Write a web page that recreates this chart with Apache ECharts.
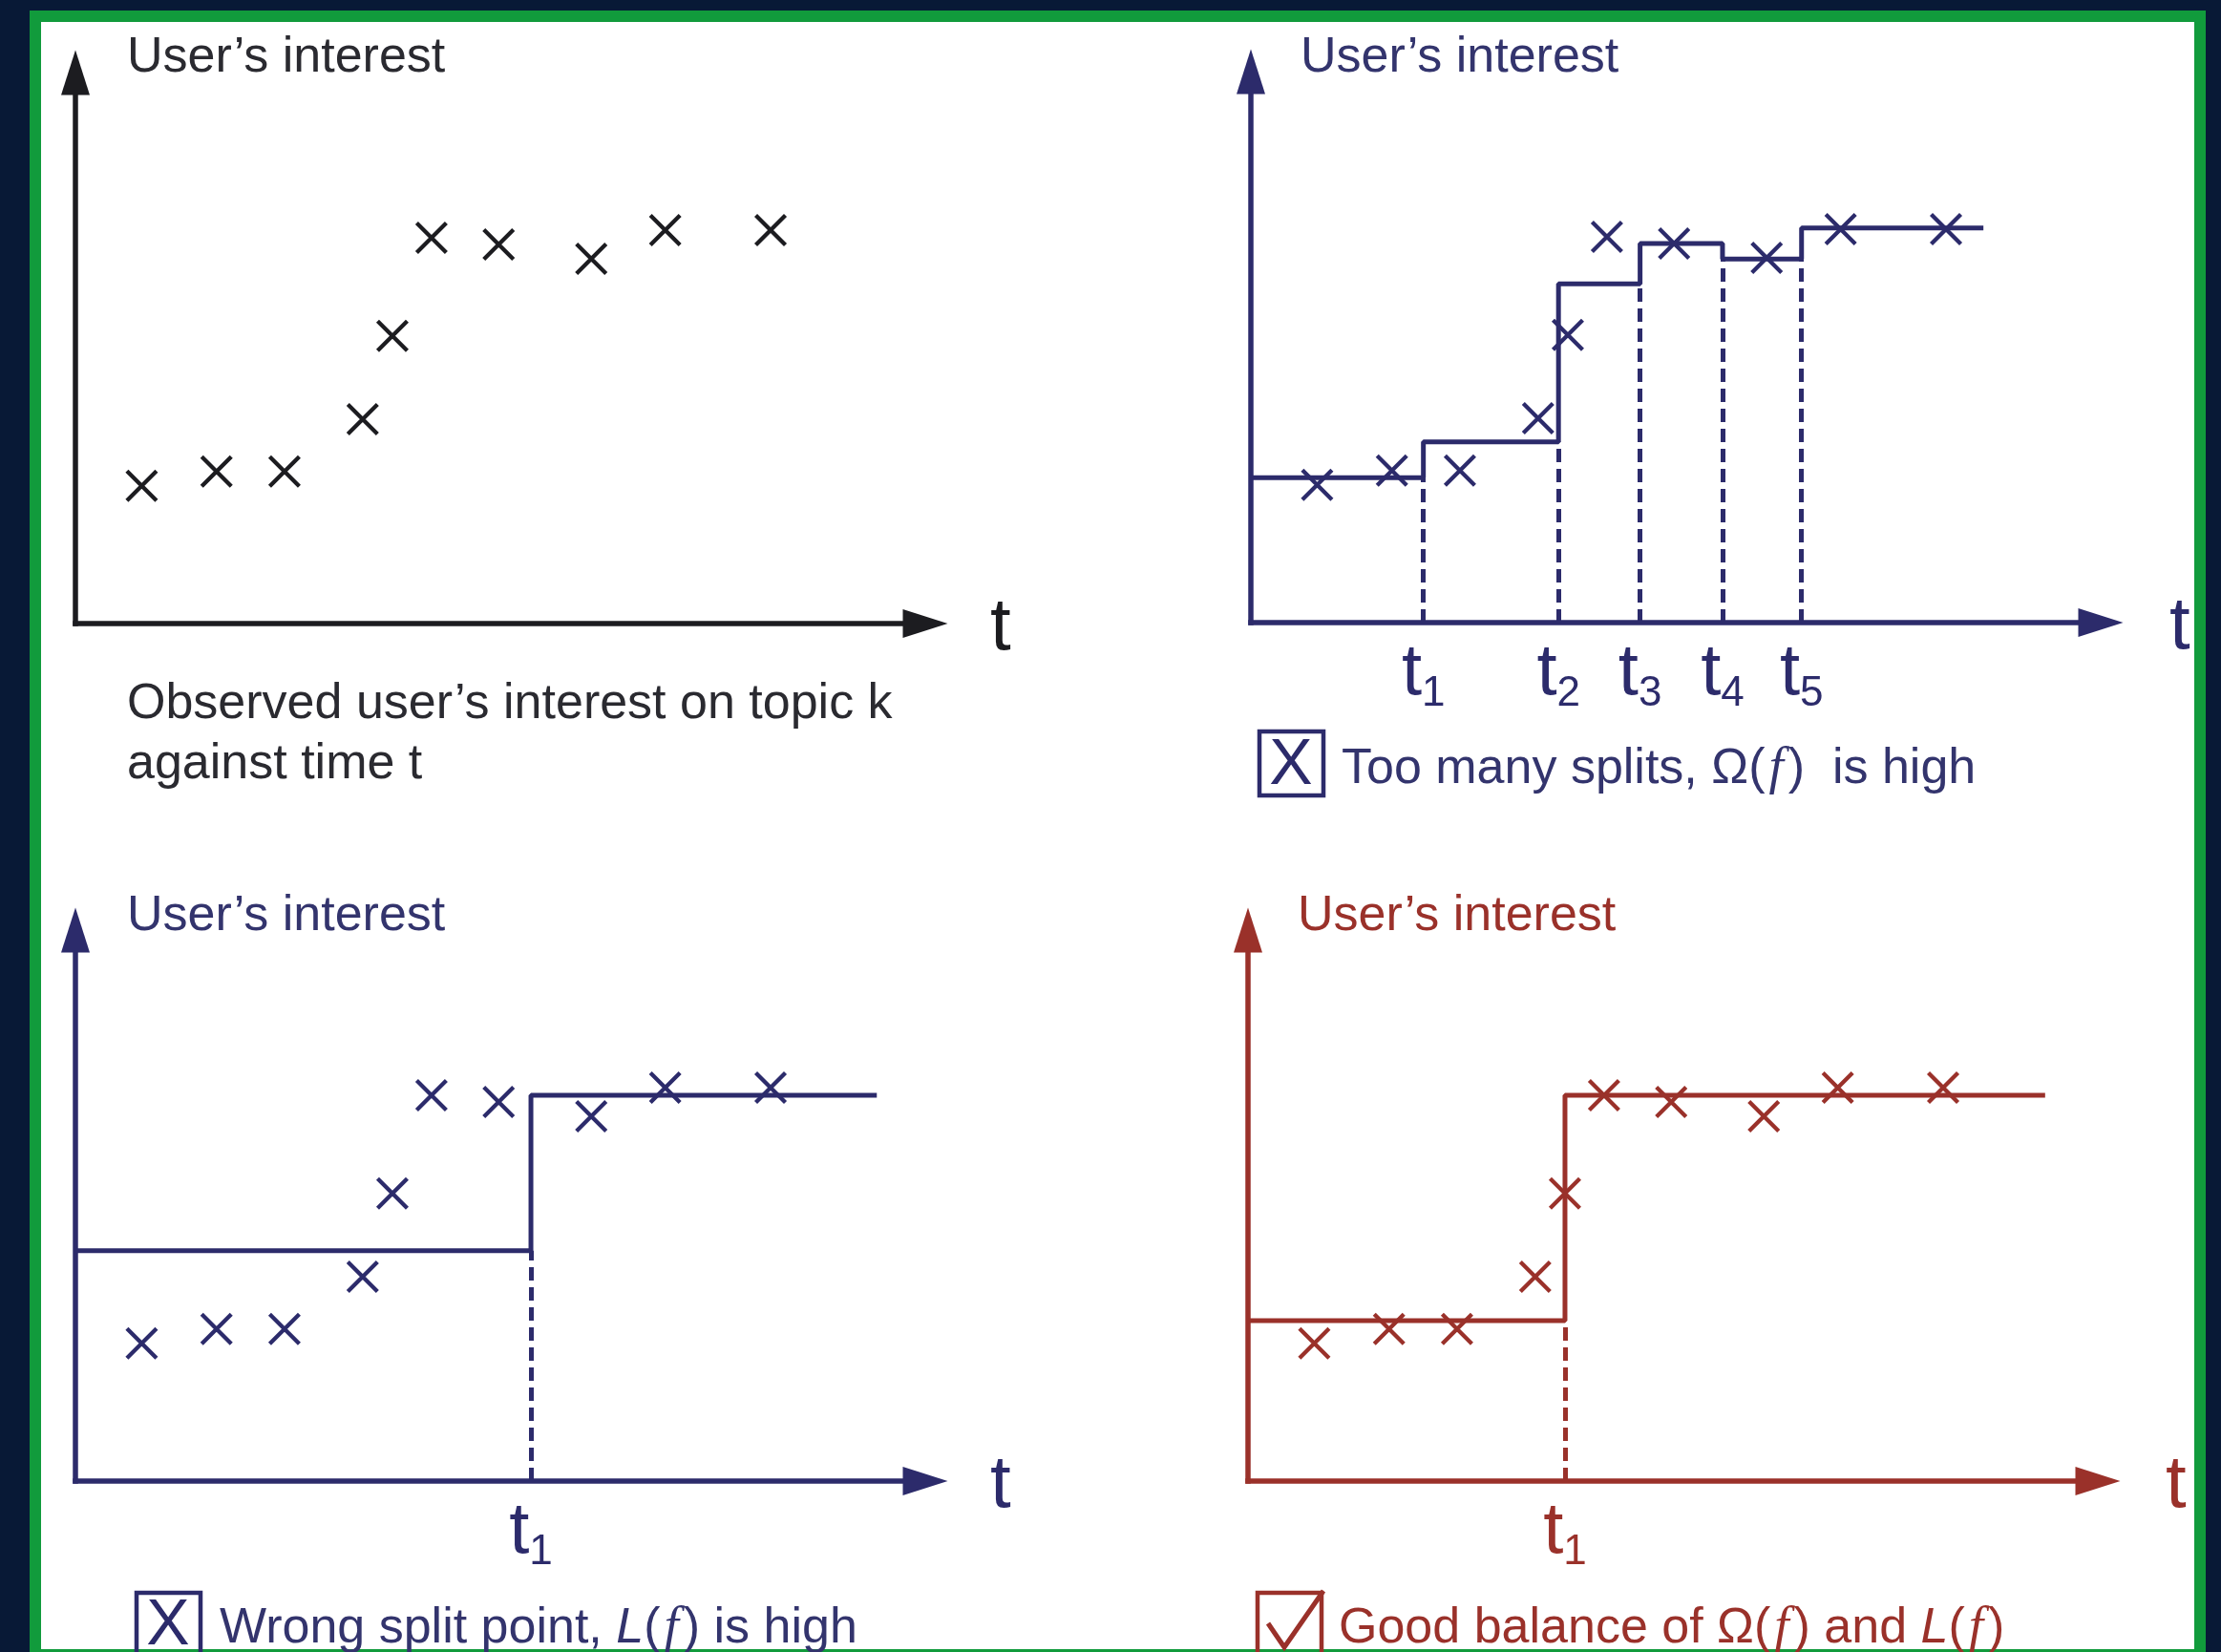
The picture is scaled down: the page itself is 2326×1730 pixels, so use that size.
<!DOCTYPE html>
<html>
<head>
<meta charset="utf-8">
<title>Interest over time: fitting splits</title>
<script src="https://cdn.jsdelivr.net/npm/echarts@6/dist/echarts.min.js"></script>
<style>
  html, body { margin: 0; padding: 0; overflow: hidden; background: #081936; }
  #frame {
    position: absolute; left: 31px; top: 11px;
    width: 2255px; height: 1704px;
    background: #ffffff; border: 12px solid #119b3c;
  }
  #chart { position: absolute; left: 0; top: 0; width: 2326px; height: 1730px; }
</style>
</head>
<body>
<div id="frame"></div>
<div id="chart"></div>
<script>
// Observed user's interest on topic k (time, interest) - same samples in every panel
const obsTime     = [7.8, 16.6, 24.6, 33.8, 37.3, 41.9, 49.8, 60.7, 69.4, 81.8];
const obsInterest = [25.0, 27.6, 27.6, 37.1, 52.2, 70.0, 68.8, 66.2, 71.4, 71.4];

// Too many splits: piecewise-constant fit with five split points
const manySplitTimes  = [20.3, 36.2, 45.8, 55.5, 64.8];
const manySplitLevels = [26.3, 32.8, 61.5, 68.8, 66.0, 71.6];
const manySplitEnd    = 86.2;

// Wrong split point: one split placed too late
const wrongSplitTimes  = [53.6];
const wrongSplitLevels = [41.8, 70.0];
const wrongSplitEnd    = 94.3;

// Good balance: one well-placed split
const goodSplitTimes  = [37.3];
const goodSplitLevels = [29.1, 70.0];
const goodSplitEnd    = 93.8;

// Subscripts of the split labels t1..t5
const splitSubscripts = ['1', '2', '3', '4', '5'];

const FONT = "'Liberation Sans', Arial, Helvetica, sans-serif";
const BLACK = '#1c1c20';
const NAVY = '#2c2b6b';
const RED = '#9a312a';
const GRID_W = 890, GRID_H = 577;

const panels = [
  { left: 79,   top: 76,  color: BLACK, textColor: '#2a2a30', nameGap: 68, fit: null },
  { left: 1310, top: 75,  color: NAVY,  textColor: '#33346d', nameGap: 72,
    fit: { times: manySplitTimes, levels: manySplitLevels, end: manySplitEnd } },
  { left: 79,   top: 974, color: NAVY,  textColor: '#33346d', nameGap: 68,
    fit: { times: wrongSplitTimes, levels: wrongSplitLevels, end: wrongSplitEnd } },
  { left: 1307, top: 974, color: RED,   textColor: '#9a312a', nameGap: 71,
    fit: { times: goodSplitTimes, levels: goodSplitLevels, end: goodSplitEnd } }
];

function stepData(fit) {
  const d = [[0, fit.levels[0]]];
  fit.times.forEach((t, i) => d.push([t, fit.levels[i + 1]]));
  d.push([fit.end, fit.levels[fit.levels.length - 1]]);
  return d;
}

function dashData(fit) {
  return fit.times.map((t, i) => [
    { coord: [t, 0] },
    { coord: [t, Math.min(fit.levels[i], fit.levels[i + 1])] }
  ]);
}

const grid = [], xAxis = [], yAxis = [], series = [];

panels.forEach((p, i) => {
  grid.push({ left: p.left, top: p.top, width: GRID_W, height: GRID_H, containLabel: false, outerBoundsMode: 'none' });

  const axisLine = {
    show: true,
    onZero: false,
    symbol: ['none', 'triangle'],
    symbolSize: [30, 47],
    lineStyle: { color: p.color, width: 5.5, cap: 'square' }
  };

  xAxis.push({
    gridIndex: i, type: 'value', min: 0, max: 100,
    axisLine: axisLine,
    axisTick: { show: false }, axisLabel: { show: false }, splitLine: { show: false },
    name: 't', nameLocation: 'end', nameGap: p.nameGap,
    nameTextStyle: {
      color: p.color, fontFamily: FONT, fontSize: 78, lineHeight: 10,
      align: 'left', verticalAlign: 'top'
    }
  });
  yAxis.push({
    gridIndex: i, type: 'value', min: 0, max: 100,
    axisLine: axisLine,
    axisTick: { show: false }, axisLabel: { show: false }, splitLine: { show: false }
  });

  if (p.fit) {
    // fitted step function with dashed drop lines at the splits
    series.push({
      type: 'line', xAxisIndex: i, yAxisIndex: i,
      step: 'end', symbol: 'none', z: 3,
      lineStyle: { color: p.color, width: 5 },
      data: stepData(p.fit),
      markLine: {
        silent: true, symbol: ['none', 'none'],
        lineStyle: { color: p.color, width: 5, type: [14, 7], opacity: 1 },
        label: { show: false },
        emphasis: { disabled: true },
        data: dashData(p.fit)
      }
    });
    // split labels t1, t2, ... below the time axis
    series.push({
      type: 'scatter', xAxisIndex: i, yAxisIndex: i,
      symbolSize: 1, itemStyle: { color: 'rgba(0,0,0,0)', opacity: 1 }, z: 4,
      data: p.fit.times.map((t, k) => ({ value: [t, 0], name: splitSubscripts[k] })),
      label: {
        show: true, position: 'bottom', distance: 16, opacity: 1,
        formatter: (q) => '{a|t}{b|' + q.name + '}',
        rich: {
          a: { fontFamily: FONT, fontSize: 76, lineHeight: 80, verticalAlign: 'top', color: p.color },
          b: { fontFamily: FONT, fontSize: 44, lineHeight: 44, verticalAlign: 'bottom', color: p.color }
        }
      }
    });
  }

  // observed samples drawn as crosses
  series.push({
    type: 'scatter', xAxisIndex: i, yAxisIndex: i, z: 5,
    symbol: 'path://M0,0L10,10M10,0L0,10',
    symbolSize: 31,
    itemStyle: { color: p.color, borderColor: p.color, borderWidth: 4.3, opacity: 1 },
    data: obsTime.map((t, k) => [t, obsInterest[k]])
  });
});

function title(x, y, color) {
  return {
    type: 'text', x: x, y: y, silent: true,
    style: { text: 'User’s interest', fill: color, fontFamily: FONT, fontSize: 52,
             align: 'left', verticalAlign: 'middle' }
  };
}

function caption(x, y, color, text) {
  return {
    type: 'text', x: x, y: y, silent: true,
    style: {
      text: text, fill: color, align: 'left', verticalAlign: 'middle',
      fontFamily: FONT, fontSize: 52,
      rich: {
        n: { fontFamily: FONT, fontSize: 52, fill: color },
        l: { fontFamily: FONT, fontSize: 52, fontStyle: 'italic', fill: color },
        f: { fontFamily: "'Liberation Serif', serif", fontSize: 55, fontStyle: 'italic', fill: color, padding: [0, 5, 0, 4] }
      }
    }
  };
}

function box(x, y, color) {
  return {
    type: 'rect', silent: true,
    shape: { x: x, y: y, width: 67, height: 67 },
    style: { fill: 'none', stroke: color, lineWidth: 4.5 }
  };
}

function crossMark(cx, cy, color) {
  return {
    type: 'text', x: cx, y: cy, silent: true,
    style: { text: 'X', fill: color, fontFamily: FONT, fontSize: 68, align: 'center', verticalAlign: 'middle' }
  };
}

const graphic = [
  title(133, 61, panels[0].textColor),
  title(1362, 61, panels[1].textColor),
  title(133, 960, panels[2].textColor),
  title(1359, 960, panels[3].textColor),
  {
    type: 'text', x: 133, y: 706, silent: true,
    style: {
      text: 'Observed user’s interest on topic k\nagainst time t',
      fill: panels[0].textColor, fontFamily: FONT, fontSize: 52, lineHeight: 63,
      align: 'left', verticalAlign: 'top'
    }
  },
  box(1319, 766, NAVY),
  crossMark(1352, 802, NAVY),
  caption(1405, 806, panels[1].textColor, '{n|Too many splits, Ω(}{f|f}{n|)  is high}'),
  box(143, 1668, NAVY),
  crossMark(176, 1703, NAVY),
  caption(230, 1706, panels[2].textColor, '{n|Wrong split point, }{l|L}{n|(}{f|f}{n|) is high}'),
  box(1317, 1668, RED),
  {
    type: 'polyline', silent: true,
    shape: { points: [[1328, 1700], [1345, 1725], [1386, 1666]] },
    style: { fill: 'none', stroke: RED, lineWidth: 5 }
  },
  caption(1402, 1706, panels[3].textColor, '{n|Good balance of Ω(}{f|f}{n|) and }{l|L}{n|(}{f|f}{n|)}')
];

const chart = echarts.init(document.getElementById('chart'), null, { renderer: 'canvas' });
chart.setOption({
  animation: false,
  backgroundColor: 'transparent',
  grid: grid,
  xAxis: xAxis,
  yAxis: yAxis,
  series: series,
  graphic: graphic
});
</script>
</body>
</html>
